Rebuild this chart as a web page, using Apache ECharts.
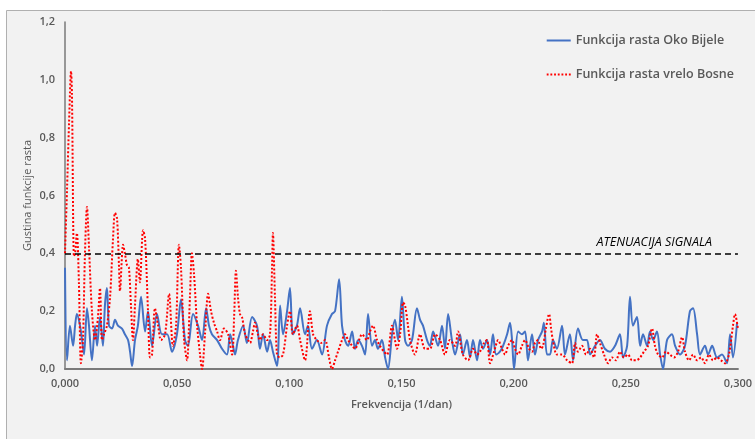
<!DOCTYPE html>
<html><head><meta charset="utf-8">
<script src="https://cdn.jsdelivr.net/npm/echarts@6/dist/echarts.min.js"></script>
<style>html,body{margin:0;padding:0;background:#fff}#c{width:755px;height:439px}</style>
</head><body><div id="c"></div>
<script>
const seriesNames = ['Funkcija rasta Oko Bijele', 'Funkcija rasta vrelo Bosne'];
const xTicks = [0, 0.05, 0.1, 0.15, 0.2, 0.25, 0.3];
const yTicks = [0, 0.2, 0.4, 0.6, 0.8, 1.0, 1.2];
const thresholdValue = 0.4;
const thresholdLabel = 'ATENUACIJA SIGNALA';

const freqBlue = [0.0000,0.0009,0.0022,0.0036,0.0045,0.0053,0.0067,0.0076,0.0085,0.0098,0.0107,0.0120,0.0134,0.0143,0.0156,0.0169,0.0178,0.0187,0.0196,0.0210,0.0223,0.0236,0.0254,0.0267,0.0281,0.0290,0.0299,0.0312,0.0325,0.0339,0.0357,0.0370,0.0388,0.0410,0.0432,0.0455,0.0477,0.0499,0.0517,0.0535,0.0548,0.0571,0.0593,0.0611,0.0629,0.0642,0.0655,0.0678,0.0700,0.0722,0.0736,0.0749,0.0758,0.0771,0.0794,0.0811,0.0834,0.0856,0.0869,0.0883,0.0901,0.0914,0.0927,0.0945,0.0959,0.0972,0.0990,0.1003,0.1016,0.1034,0.1048,0.1070,0.1083,0.1101,0.1123,0.1146,0.1168,0.1190,0.1204,0.1222,0.1235,0.1248,0.1262,0.1280,0.1293,0.1307,0.1324,0.1338,0.1351,0.1369,0.1382,0.1395,0.1413,0.1427,0.1440,0.1458,0.1471,0.1485,0.1502,0.1516,0.1529,0.1547,0.1569,0.1583,0.1596,0.1614,0.1627,0.1641,0.1663,0.1681,0.1694,0.1708,0.1725,0.1739,0.1761,0.1774,0.1792,0.1806,0.1819,0.1837,0.1850,0.1864,0.1881,0.1895,0.1908,0.1922,0.1939,0.1953,0.1971,0.1984,0.1993,0.2002,0.2020,0.2037,0.2051,0.2064,0.2082,0.2095,0.2109,0.2127,0.2135,0.2149,0.2162,0.2175,0.2193,0.2216,0.2229,0.2251,0.2265,0.2287,0.2309,0.2327,0.2341,0.2363,0.2385,0.2407,0.2430,0.2452,0.2474,0.2488,0.2506,0.2519,0.2532,0.2550,0.2564,0.2577,0.2595,0.2608,0.2622,0.2639,0.2653,0.2666,0.2684,0.2706,0.2720,0.2742,0.2764,0.2786,0.2800,0.2818,0.2831,0.2853,0.2867,0.2885,0.2907,0.2929,0.2951,0.2965,0.2978,0.2996];
const valBlue = [0.35,0.03,0.15,0.08,0.15,0.19,0.15,0.10,0.05,0.21,0.15,0.03,0.15,0.08,0.18,0.08,0.22,0.28,0.15,0.14,0.17,0.15,0.14,0.12,0.10,0.06,0.01,0.10,0.15,0.25,0.13,0.20,0.08,0.19,0.12,0.12,0.06,0.12,0.24,0.10,0.08,0.19,0.15,0.10,0.21,0.15,0.12,0.10,0.07,0.05,0.12,0.08,0.05,0.10,0.15,0.09,0.18,0.15,0.07,0.12,0.06,0.10,0.06,0.01,0.22,0.12,0.20,0.28,0.12,0.15,0.21,0.12,0.15,0.07,0.10,0.05,0.15,0.19,0.20,0.31,0.15,0.10,0.08,0.13,0.07,0.10,0.08,0.05,0.19,0.08,0.10,0.07,0.10,0.04,0.00,0.12,0.17,0.10,0.25,0.10,0.08,0.10,0.21,0.17,0.15,0.10,0.08,0.13,0.08,0.15,0.07,0.19,0.10,0.05,0.12,0.05,0.10,0.04,0.10,0.03,0.10,0.07,0.10,0.05,0.12,0.05,0.06,0.08,0.12,0.16,0.10,0.00,0.13,0.12,0.13,0.03,0.12,0.05,0.10,0.13,0.16,0.05,0.05,0.10,0.07,0.15,0.05,0.12,0.03,0.14,0.10,0.10,0.05,0.08,0.10,0.07,0.06,0.08,0.12,0.04,0.08,0.25,0.15,0.18,0.08,0.12,0.08,0.13,0.10,0.13,0.05,0.00,0.10,0.12,0.08,0.05,0.08,0.20,0.21,0.12,0.05,0.08,0.05,0.08,0.04,0.05,0.02,0.12,0.04,0.16];

const freqRed = [0.0000,0.0009,0.0018,0.0027,0.0031,0.0040,0.0045,0.0053,0.0062,0.0071,0.0080,0.0089,0.0098,0.0107,0.0120,0.0134,0.0147,0.0156,0.0165,0.0174,0.0187,0.0201,0.0214,0.0223,0.0232,0.0241,0.0245,0.0259,0.0267,0.0276,0.0285,0.0294,0.0303,0.0312,0.0325,0.0334,0.0348,0.0357,0.0370,0.0379,0.0388,0.0401,0.0415,0.0428,0.0446,0.0464,0.0481,0.0495,0.0508,0.0517,0.0531,0.0544,0.0557,0.0566,0.0575,0.0589,0.0602,0.0611,0.0624,0.0638,0.0651,0.0664,0.0678,0.0691,0.0709,0.0727,0.0745,0.0754,0.0762,0.0771,0.0780,0.0789,0.0803,0.0816,0.0825,0.0838,0.0847,0.0860,0.0869,0.0883,0.0901,0.0914,0.0923,0.0927,0.0936,0.0945,0.0958,0.0972,0.0990,0.1003,0.1016,0.1034,0.1048,0.1070,0.1092,0.1106,0.1123,0.1141,0.1159,0.1177,0.1190,0.1204,0.1217,0.1235,0.1248,0.1262,0.1280,0.1293,0.1311,0.1324,0.1346,0.1360,0.1373,0.1391,0.1404,0.1422,0.1436,0.1458,0.1471,0.1480,0.1494,0.1507,0.1516,0.1529,0.1538,0.1560,0.1583,0.1605,0.1627,0.1650,0.1672,0.1694,0.1716,0.1739,0.1752,0.1774,0.1797,0.1819,0.1837,0.1850,0.1868,0.1881,0.1895,0.1913,0.1931,0.1948,0.1962,0.1975,0.1993,0.2006,0.2020,0.2037,0.2051,0.2069,0.2082,0.2095,0.2109,0.2122,0.2131,0.2144,0.2158,0.2167,0.2175,0.2193,0.2216,0.2238,0.2260,0.2274,0.2287,0.2305,0.2323,0.2341,0.2358,0.2372,0.2385,0.2403,0.2421,0.2439,0.2456,0.2474,0.2492,0.2510,0.2528,0.2546,0.2564,0.2581,0.2599,0.2617,0.2630,0.2644,0.2662,0.2679,0.2697,0.2715,0.2733,0.2751,0.2764,0.2782,0.2800,0.2818,0.2836,0.2853,0.2871,0.2889,0.2907,0.2925,0.2943,0.2960,0.2978,0.2987,0.3000];
const valRed = [0.40,0.62,0.85,1.03,0.95,0.39,0.40,0.47,0.30,0.02,0.10,0.40,0.56,0.42,0.20,0.10,0.18,0.28,0.10,0.12,0.15,0.25,0.45,0.54,0.52,0.35,0.27,0.43,0.40,0.36,0.35,0.22,0.10,0.22,0.38,0.30,0.48,0.45,0.20,0.04,0.05,0.21,0.15,0.10,0.12,0.26,0.08,0.15,0.43,0.35,0.10,0.03,0.25,0.40,0.33,0.15,0.05,0.00,0.12,0.26,0.20,0.16,0.13,0.10,0.14,0.12,0.05,0.18,0.34,0.25,0.19,0.18,0.12,0.10,0.09,0.13,0.16,0.12,0.10,0.12,0.10,0.12,0.35,0.47,0.25,0.05,0.04,0.05,0.15,0.20,0.12,0.15,0.10,0.03,0.20,0.12,0.10,0.09,0.10,0.04,0.00,0.03,0.06,0.10,0.12,0.10,0.08,0.07,0.10,0.12,0.10,0.13,0.15,0.10,0.08,0.06,0.05,0.15,0.10,0.07,0.12,0.23,0.22,0.15,0.10,0.05,0.12,0.07,0.07,0.12,0.10,0.05,0.10,0.08,0.13,0.05,0.03,0.07,0.05,0.06,0.09,0.10,0.02,0.06,0.10,0.07,0.05,0.08,0.10,0.07,0.05,0.08,0.10,0.07,0.06,0.09,0.10,0.07,0.08,0.14,0.19,0.14,0.10,0.05,0.05,0.03,0.02,0.09,0.06,0.08,0.05,0.07,0.04,0.12,0.09,0.05,0.02,0.04,0.03,0.06,0.04,0.05,0.03,0.03,0.04,0.06,0.08,0.14,0.08,0.05,0.04,0.06,0.05,0.04,0.06,0.11,0.06,0.03,0.05,0.03,0.04,0.02,0.05,0.03,0.04,0.03,0.02,0.05,0.15,0.19,0.14];

const pair = (xs, ys) => xs.map((x, i) => [x, ys[i]]);
const comma = (v, d) => v.toFixed(d).replace('.', ',');
const textCol = '#595959';
const font = 'Open Sans';
const solidIcon = 'path://M0,0h24v2h-24z';
const dottedIcon = 'path://M0,0h2v2h-2zM4,0h2v2h-2zM8,0h2v2h-2zM12,0h2v2h-2zM16,0h2v2h-2zM20,0h2v2h-2zM24,0h2v2h-2z';

const chart = echarts.init(document.getElementById('c'), null, {renderer: 'canvas'});
chart.setOption({
  backgroundColor: '#ffffff',
  animation: false,
  graphic: [{
    type: 'rect', z: -10, silent: true,
    shape: {x: 6.5, y: 10.5, width: 800, height: 500},
    style: {fill: '#f2f2f2', stroke: '#b0b0b0', lineWidth: 1}
  }],
  grid: {left: 65, right: 17, top: 22, bottom: 70, containLabel: false},
  legend: {
    orient: 'vertical', right: 16, top: 29, itemGap: 21,
    itemWidth: 24, itemHeight: 2,
    textStyle: {color: textCol, fontFamily: font, fontSize: 12.5, fontWeight: 600},
    data: [
      {name: seriesNames[0], icon: solidIcon},
      {name: seriesNames[1], icon: dottedIcon}
    ]
  },
  xAxis: {
    type: 'value', min: xTicks[0], max: xTicks[xTicks.length - 1], interval: 0.05,
    name: 'Frekvencija (1/dan)', nameLocation: 'middle', nameGap: 30,
    nameTextStyle: {color: textCol, fontFamily: font, fontSize: 11, fontWeight: 600},
    axisLine: {lineStyle: {color: '#7a7a7a', width: 2}},
    axisTick: {show: false}, splitLine: {show: false},
    axisLabel: {color: textCol, fontFamily: font, fontSize: 11, fontWeight: 600, margin: 9,
      formatter: v => comma(v, 3)}
  },
  yAxis: {
    type: 'value', min: yTicks[0], max: yTicks[yTicks.length - 1], interval: 0.2,
    name: 'Gustina funkcije rasta', nameLocation: 'middle', nameGap: 32, nameMoveOverlap: false,
    nameTextStyle: {color: textCol, fontFamily: font, fontSize: 11},
    axisLine: {show: true, lineStyle: {color: '#7a7a7a', width: 1.5}},
    axisTick: {show: false}, splitLine: {show: false},
    axisLabel: {color: textCol, fontFamily: font, fontSize: 11, fontWeight: 600, margin: 10,
      formatter: v => comma(v, 1)}
  },
  series: [{
    name: seriesNames[0], type: 'line', symbol: 'none', smooth: 0.3,
    data: pair(freqBlue, valBlue),
    lineStyle: {color: '#4472c4', width: 2},
    itemStyle: {color: '#4472c4'},
    markLine: {
      silent: true, symbol: 'none',
      lineStyle: {color: '#000', type: [6, 4], width: 1.5},
      label: {show: true, position: 'insideEndTop', formatter: thresholdLabel, distance: [26, 4],
        color: '#000', fontFamily: font, fontSize: 12.5, fontStyle: 'italic'},
      data: [{yAxis: thresholdValue}]
    }
  }, {
    name: seriesNames[1], type: 'line', symbol: 'none', smooth: 0.3,
    data: pair(freqRed, valRed),
    lineStyle: {color: '#ff0000', width: 2, type: 'dotted'},
    itemStyle: {color: '#ff0000'}
  }]
});
</script></body></html>
